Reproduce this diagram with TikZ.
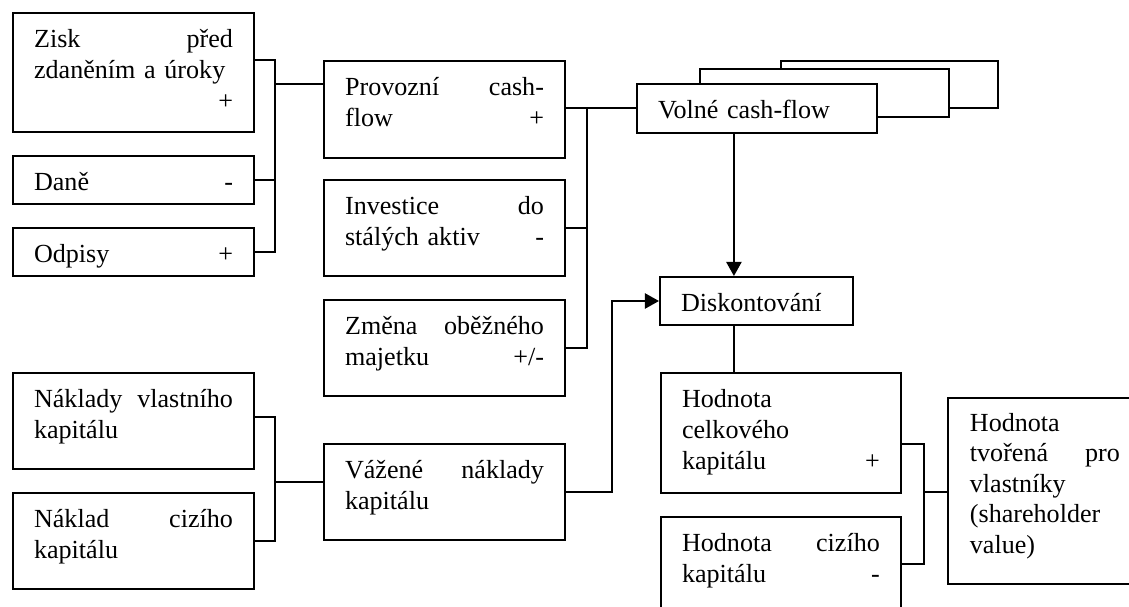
\documentclass[tikz,border=0pt]{standalone}
\usepackage{fontspec}
\setmainfont{Liberation Serif}
\usetikzlibrary{arrows.meta, positioning}

\tikzset{
  blok/.style={draw, line width=0.9pt, fill=white, anchor=north west, align=left,
    inner xsep=9.7pt, inner ysep=0pt, text width=#1, text height=16.1pt},
  blok/.default=91.5pt,
  vrstva/.style={draw, line width=0.9pt, fill=white, anchor=north west, inner sep=0pt},
  spoj/.style={line width=0.9pt},
  sipka/.style={line width=0.9pt, -{Triangle[length=6.5pt, width=7pt]}},
}

\begin{document}
\begin{tikzpicture}[x=0.46pt, y=-0.46pt, font=\fontsize{12}{14.1}\selectfont]
  \useasboundingbox (0,0) rectangle (1129,607);
  \clip (0,0) rectangle (1129,607);

  % levy sloupec
  \node[blok, text depth=38.6pt] (zisk) at (12,12) {Zisk\hfill před\\zdaněním a úroky\\\mbox{}\hfill+\hspace*{5.5pt}};
  \node[blok, text depth=6pt, below=10.1pt of zisk] (dane) {Daně\hfill-\hspace*{6.9pt}};
  \node[blok, text depth=6pt, below=10.1pt of dane] (odpisy) {Odpisy\hfill+\hspace*{6.4pt}};
  \node[blok, text depth=28.1pt] (nvk) at (12,372) {Náklady\hfill vlastního\\kapitálu};
  \node[blok, text depth=28.1pt, below=10.1pt of nvk] (nck) {Náklad\hfill cizího\\kapitálu};

  % prostredni sloupec
  \node[blok, text depth=28.5pt] (provozni) at (323,60) {Provozní\hfill cash-\\flow\hfill+\hspace*{4.1pt}};
  \node[blok, text depth=28.1pt, below=9.2pt of provozni] (investice) {Investice\hfill do\\stálých aktiv\hfill-\hspace*{1.8pt}};
  \node[blok, text depth=28.1pt, below=10.1pt of investice] (zmena) {Změna\hfill oběžného\\majetku\hfill+/-};
  \node[blok, text depth=28.1pt, below=21.1pt of zmena] (vazene) {Vážené\hfill náklady\\kapitálu};

  % pravy sloupec
  \node[vrstva, minimum width=99.8pt, minimum height=21.6pt] (volne3) at (780,60) {};
  \node[vrstva, minimum width=114.5pt, minimum height=22.1pt] (volne2) at (699,68) {};
  \node[blok=91pt, text depth=6.4pt] (volne) at (636,83) {Volné cash-flow};
  \node[blok=69.4pt, text depth=6pt] (diskont) at (659,276) {Diskontování};
  \node[blok=91pt, text depth=39.1pt] (hck) at (660,372) {Hodnota\\celkového\\kapitálu\hfill+\hspace*{5pt}};
  \node[blok=91pt, text depth=41pt, below=10.1pt of hck] (hcizi) {Hodnota\hfill cizího\\kapitálu\hfill-\hspace*{5pt}};
  \node[blok=69pt, inner xsep=10.1pt, text height=15.2pt, text depth=70.4pt] (hvl) at (947,397) {Hodnota\\tvořená\hfill pro\\vlastníky\\(shareholder\\value)};

  % spoje
  \coordinate (sbA) at (275,84);
  \coordinate (sbB) at (587,108);
  \coordinate (sbC) at (275,482);
  \coordinate (sbD) at (612,300);
  \coordinate (sbF) at (924,492);
  \coordinate (osa) at ([xshift=-10.6pt]volne.south);

  \draw[spoj] (zisk.east |- 0,60) -| (sbA |- odpisy.east) -- (odpisy.east);
  \draw[spoj] (dane.east) -- (dane.east -| sbA);
  \draw[spoj] (sbA) -- (sbA -| provozni.west);

  \draw[spoj] (provozni.east |- sbB) -- (volne.west |- sbB);
  \draw[spoj] (sbB) |- (zmena.east);
  \draw[spoj] (investice.east) -- (investice.east -| sbB);

  \draw[spoj] (nvk.east |- 0,417) -| (sbC |- nck.east) -- (nck.east);
  \draw[spoj] (sbC) -- (sbC -| vazene.west);
  \draw[sipka] (vazene.east) -| (sbD |- diskont.west) -- (diskont.west);

  \draw[sipka] (osa) -- (osa |- diskont.north);
  \draw[spoj] (osa |- diskont.south) -- (osa |- hck.north);

  \draw[spoj] (hck.east |- 0,444) -| (sbF |- 0,564) -- (hcizi.east |- 0,564);
  \draw[spoj] (sbF) -- (sbF -| hvl.west);
\end{tikzpicture}
\end{document}
